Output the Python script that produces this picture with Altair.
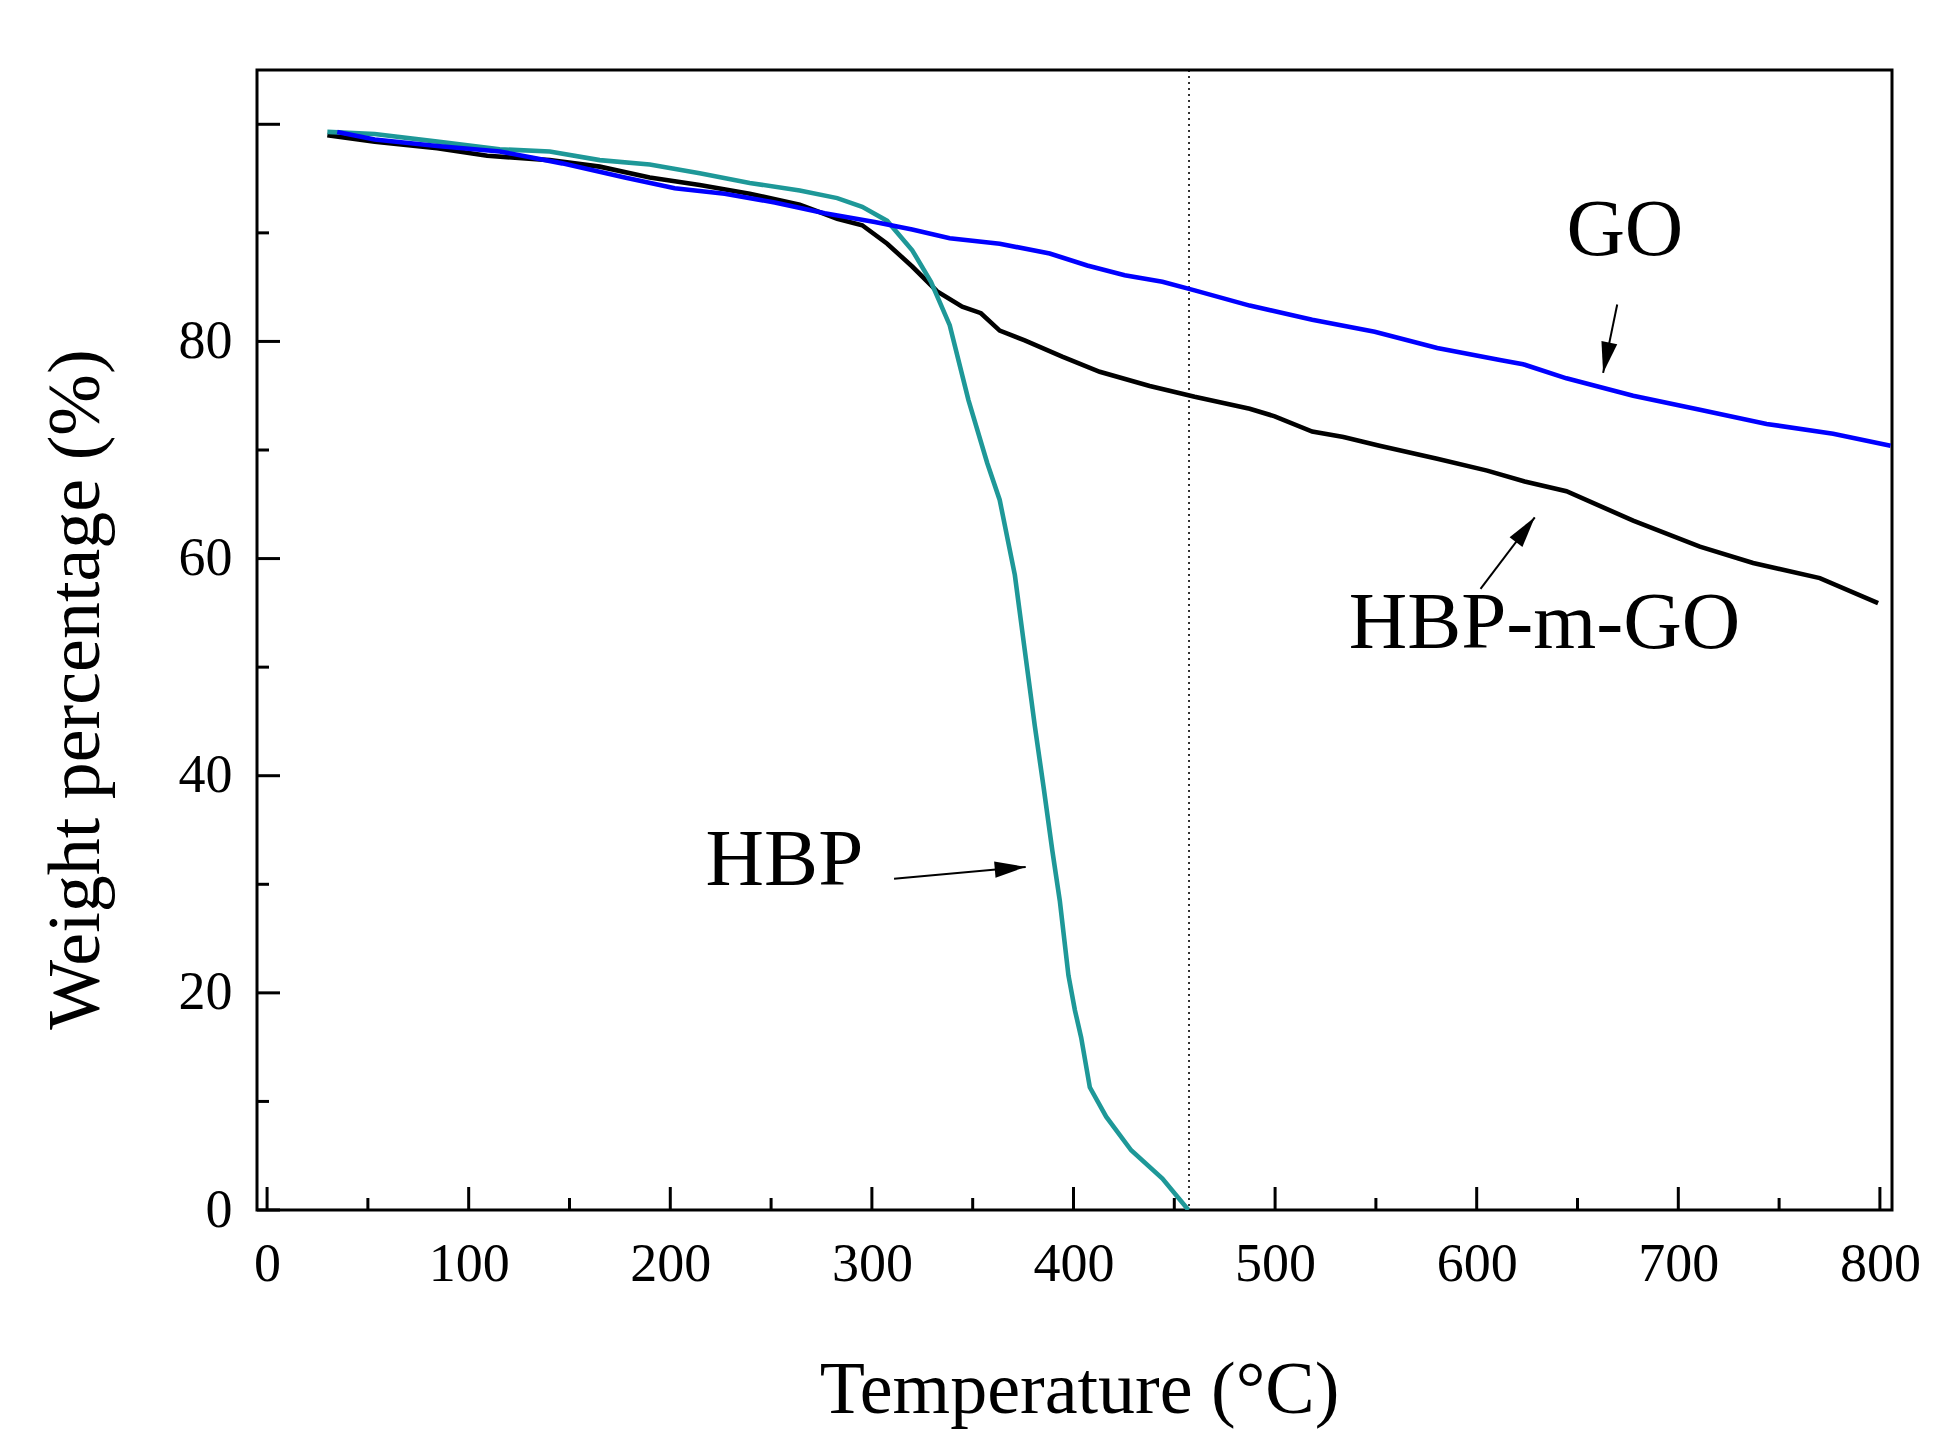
import altair as alt
import pandas as pd

# ---- data (Temperature in °C, weight %) ----
hbp_t = [29.9, 53.4, 84.4, 115.4, 140.2, 165.0, 189.8, 214.6, 239.4, 264.2, 282.8, 295.2,
         307.6, 320.0, 329.3, 338.6, 347.9, 357.2, 363.4, 370.9, 375.8, 380.8, 385.2, 389.5,
         393.2, 397.5, 400.7, 403.8, 408.1, 416.2, 428.6, 444.1, 457.0]
hbp_w = [99.3, 99.1, 98.4, 97.7, 97.5, 96.7, 96.3, 95.5, 94.6, 93.9, 93.2, 92.4,
         91.1, 88.4, 85.5, 81.5, 74.6, 68.8, 65.4, 58.5, 51.6, 44.6, 38.9, 33.1,
         28.5, 21.6, 18.4, 15.9, 11.3, 8.6, 5.5, 2.9, 0.0]

hbpgo_t = [29.9, 53.4, 84.4, 109.2, 140.2, 165.0, 189.8, 214.6, 239.4, 264.2, 282.8, 295.2,
           307.6, 320.0, 332.4, 344.8, 354.1, 363.4, 375.8, 394.4, 413.0, 437.8, 460.1,
           487.4, 499.8, 518.4, 533.9, 551.8, 580.4, 605.2, 623.8, 644.5, 677.6, 710.7,
           737.1, 770.2, 799.1]
hbpgo_w = [99.0, 98.4, 97.8, 97.1, 96.7, 96.1, 95.1, 94.4, 93.6, 92.6, 91.3, 90.7,
           89.0, 86.9, 84.6, 83.2, 82.6, 81.0, 80.1, 78.6, 77.2, 75.9, 74.9,
           73.8, 73.1, 71.7, 71.2, 70.4, 69.2, 68.1, 67.1, 66.2, 63.5, 61.1,
           59.6, 58.2, 55.9]

go_t = [34.8, 53.4, 84.4, 115.4, 146.4, 177.4, 202.2, 227.0, 251.8, 276.6, 301.4, 320.0,
        338.6, 363.4, 388.2, 406.8, 425.4, 444.1, 460.1, 487.4, 518.4, 549.4, 580.4,
        611.5, 623.0, 644.5, 677.6, 710.7, 743.8, 776.8, 805.3]
go_w = [99.3, 98.6, 98.0, 97.5, 96.4, 95.1, 94.1, 93.6, 92.8, 91.8, 91.0, 90.3,
        89.5, 89.0, 88.1, 87.0, 86.1, 85.5, 84.7, 83.3, 82.0, 80.9, 79.4,
        78.3, 77.9, 76.6, 75.0, 73.7, 72.4, 71.5, 70.4]

series_names = ["HBP", "HBP-m-GO", "GO"]
series_colors = ["#1e9898", "#000000", "#0000ff"]

x_major = [0, 100, 200, 300, 400, 500, 600, 700, 800]
x_minor = [50, 150, 250, 350, 450, 550, 650, 750]
y_major = [0, 20, 40, 60, 80, 100]
y_minor = [10, 30, 50, 70, 90]
y_labels = [0, 20, 40, 60, 80]
marker_t = 457.3

label_text = ["GO", "HBP-m-GO", "HBP"]
label_t = [673.5, 633.6, 256.6]
label_w = [88.0, 51.8, 29.9]

arrow_t0 = [669.7, 601.9, 311.0]
arrow_w0 = [83.4, 57.2, 30.5]
arrow_t1 = [662.7, 628.8, 376.3]
arrow_w1 = [77.1, 63.8, 31.6]
arrow_angle = [191.6, 37.2, 85.0]

W, H = 1635, 1140
FONT = "Liberation Serif"

xs = alt.Scale(domain=[-5, 806], nice=False, zero=False)
ys = alt.Scale(domain=[0, 105], nice=False, zero=False)

def curve(t, w, name):
    return pd.DataFrame({"t": t, "w": w, "s": name, "o": range(len(t))})

df = pd.concat([curve(hbpgo_t, hbpgo_w, "HBP-m-GO"),
                curve(hbp_t, hbp_w, "HBP"),
                curve(go_t, go_w, "GO")])

color = alt.Color("s:N", scale=alt.Scale(domain=series_names, range=series_colors), legend=None)

def line_layer(name):
    return alt.Chart(df[df["s"] == name]).mark_line(strokeWidth=4.6, clip=True).encode(
        x=alt.X("t:Q", scale=xs,
                axis=alt.Axis(values=x_major, ticks=False, tickSize=0, domain=False, grid=False,
                              labelPadding=27, title="Temperature (°C)",
                              titleX=822, titleY=202, titleBaseline="alphabetic",
                              titleAlign="center")),
        y=alt.Y("w:Q", scale=ys,
                axis=alt.Axis(values=y_labels, ticks=False, tickSize=0, domain=False, grid=False,
                              labelPadding=25, title="Weight percentage (%)",
                              titleX=-159, titleY=619, titleBaseline="alphabetic",
                              titleAlign="center", titleAngle=270)),
        color=color,
        order="o:Q",
    )

lines = [line_layer("HBP-m-GO"), line_layer("HBP"), line_layer("GO")]

marker = alt.Chart(pd.DataFrame({"t": [marker_t]})).mark_rule(
    color="black", strokeWidth=1.6, strokeDash=[2, 4]).encode(
    x=alt.X("t:Q", scale=xs), y=alt.value(0), y2=alt.value(H))

def xticks(vals, ln):
    return alt.Chart(pd.DataFrame({"t": vals})).mark_rule(color="black", strokeWidth=3).encode(
        x=alt.X("t:Q", scale=xs), y=alt.value(H), y2=alt.value(H - ln))

def yticks(vals, ln):
    return alt.Chart(pd.DataFrame({"w": vals})).mark_rule(color="black", strokeWidth=3).encode(
        y=alt.Y("w:Q", scale=ys), x=alt.value(0), x2=alt.value(ln))

labels = alt.Chart(pd.DataFrame({"txt": label_text, "t": label_t, "w": label_w})).mark_text(
    font=FONT, fontSize=81, color="black", align="center", baseline="alphabetic").encode(
    x=alt.X("t:Q", scale=xs), y=alt.Y("w:Q", scale=ys), text="txt:N")

arr_df = pd.DataFrame({"t0": arrow_t0, "w0": arrow_w0, "t1": arrow_t1, "w1": arrow_w1,
                       "a": arrow_angle})
arrow_lines = alt.Chart(arr_df).mark_rule(color="black", strokeWidth=2).encode(
    x=alt.X("t0:Q", scale=xs), y=alt.Y("w0:Q", scale=ys), x2="t1:Q", y2="w1:Q")
arrow_heads = alt.Chart(arr_df).mark_point(
    shape="M0,0L0.52,2L-0.52,2Z", filled=True, color="black", opacity=1, size=961,
    strokeWidth=0).encode(
    x=alt.X("t1:Q", scale=xs), y=alt.Y("w1:Q", scale=ys),
    angle=alt.Angle("a:Q", scale=None))

chart = alt.layer(
    marker, *lines,
    xticks(x_major, 23), xticks(x_minor, 12), yticks(y_major, 23), yticks(y_minor, 12),
    labels, arrow_lines, arrow_heads,
).properties(
    width=W, height=H,
    autosize=alt.AutoSizeParams(type="none"),
    padding={"left": 249, "top": 62, "right": 52, "bottom": 233},
    background="white",
).configure_view(
    stroke="black", strokeWidth=3
).configure_axis(
    labelFont=FONT, labelFontSize=54, labelColor="black",
    titleFont=FONT, titleFontSize=74, titleFontWeight="normal", titleColor="black",
)

chart.save("out.html", embed_options={"renderer": "svg", "actions": False})
